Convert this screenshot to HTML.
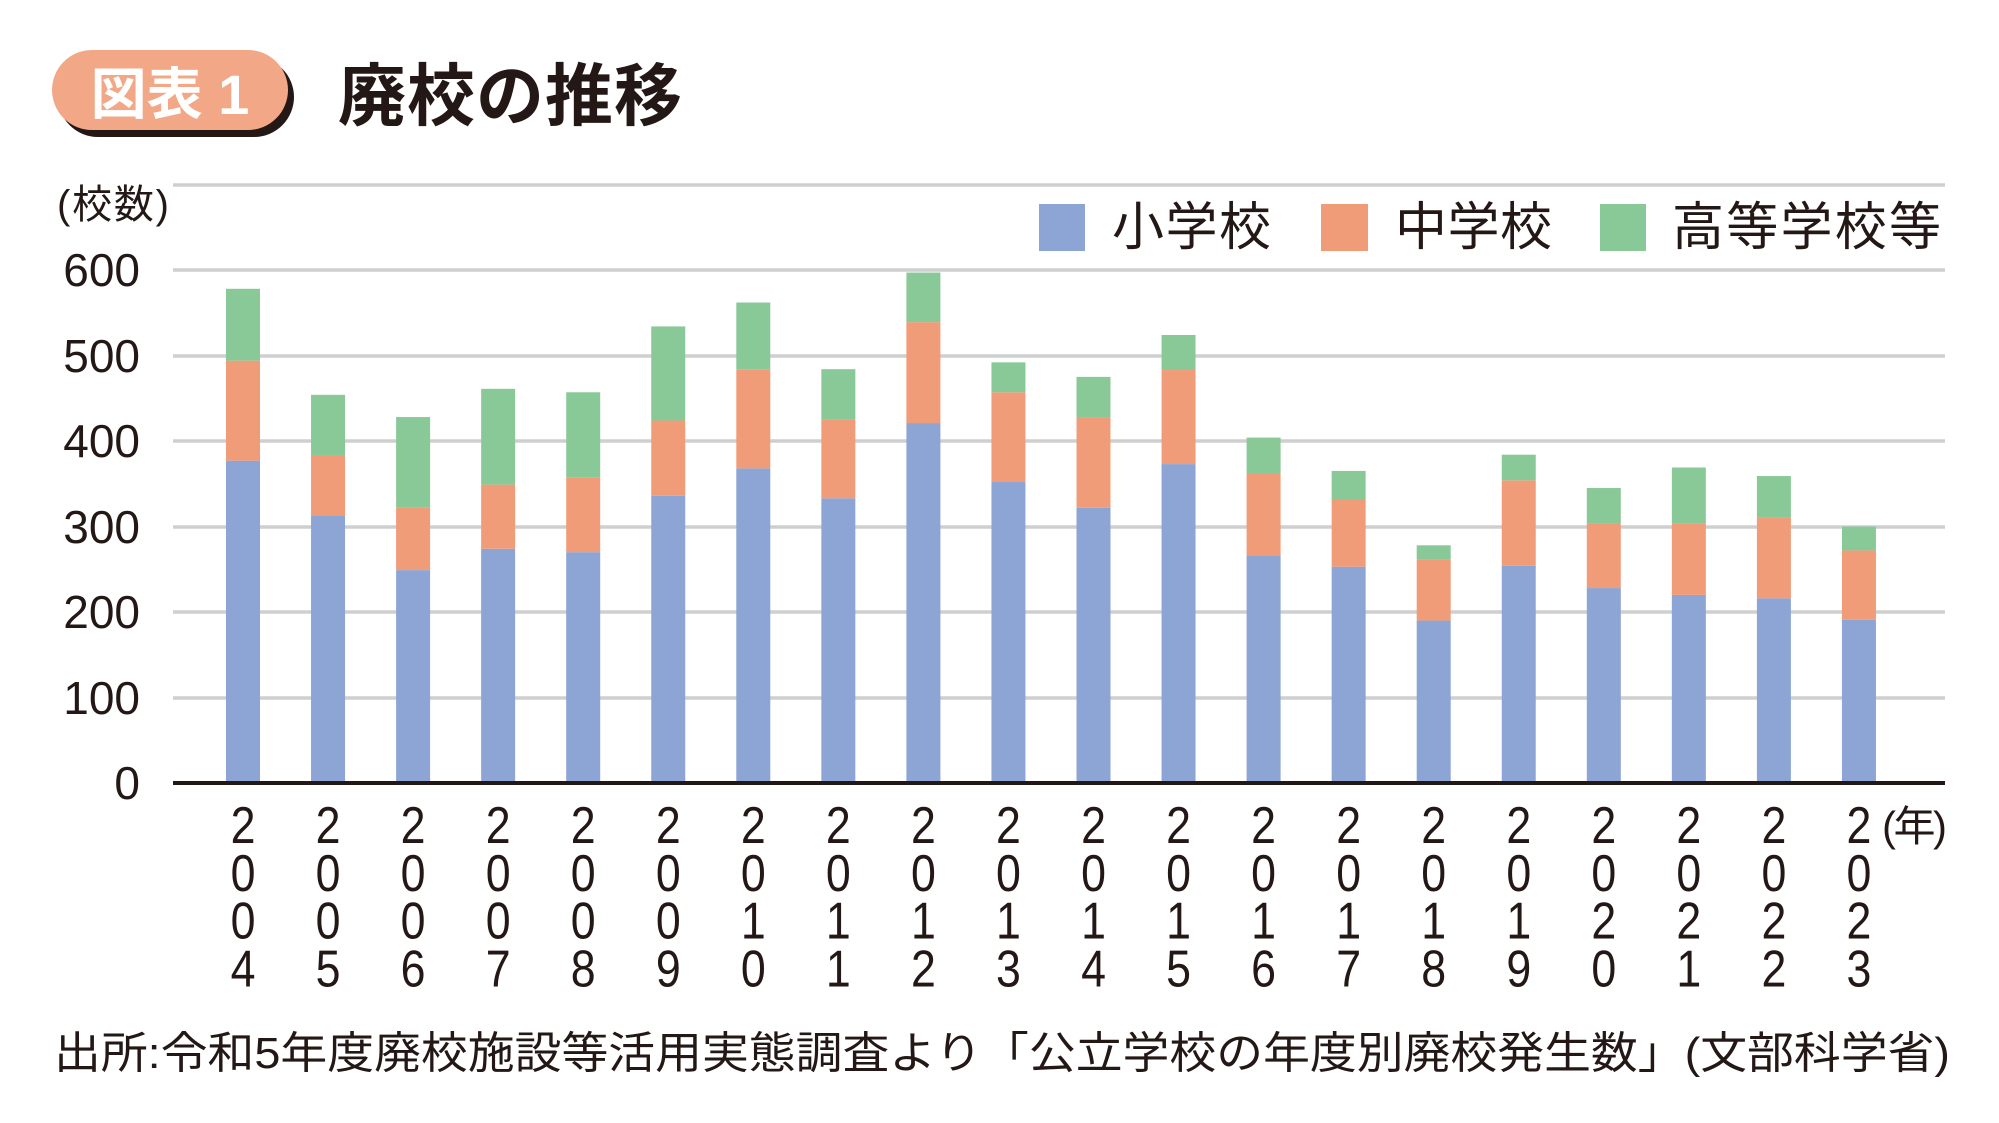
<!DOCTYPE html>
<html><head><meta charset="utf-8"><style>
html,body{margin:0;padding:0;background:#fff;}
svg{display:block;}
</style></head><body>
<svg width="1999" height="1123" viewBox="0 0 1999 1123" xmlns="http://www.w3.org/2000/svg">
<rect width="1999" height="1123" fill="#fff"/>
<!-- title pill -->
<rect x="58" y="57" width="236" height="80" rx="40" fill="#231815"/>
<rect x="52" y="50" width="236" height="80" rx="40" fill="#F2A886"/>
<text x="170" y="114" text-anchor="middle" font-family="Liberation Sans, Noto Sans CJK JP, sans-serif" font-size="56" fill="#fff" font-weight="bold">図表 1</text>
<text x="338" y="120" font-family="Liberation Sans, Noto Sans CJK JP, sans-serif" font-size="68" font-weight="bold" fill="#231815" textLength="344">廃校の推移</text>
<!-- grid -->
<g stroke="#cfcfcf" stroke-width="3.5">
<line x1="173" y1="185" x2="1945" y2="185"/>
<line x1="173" y1="270" x2="1945" y2="270"/>
<line x1="173" y1="356" x2="1945" y2="356"/>
<line x1="173" y1="441" x2="1945" y2="441"/>
<line x1="173" y1="527" x2="1945" y2="527"/>
<line x1="173" y1="612" x2="1945" y2="612"/>
<line x1="173" y1="698" x2="1945" y2="698"/>
</g>
<text x="57" y="218" font-family="Liberation Sans, Noto Sans CJK JP, sans-serif" font-size="40" fill="#231815" textLength="112">(校数)</text>
<g font-family="Liberation Sans, sans-serif" font-size="46" fill="#231815" text-anchor="end">
<text x="140" y="286">600</text>
<text x="140" y="372">500</text>
<text x="140" y="457">400</text>
<text x="140" y="543">300</text>
<text x="140" y="628">200</text>
<text x="140" y="714">100</text>
<text x="140" y="799">0</text>
</g>
<!-- legend -->
<rect x="1039" y="204" width="46" height="47" fill="#8CA5D4"/>
<text x="1112" y="245" font-family="Noto Sans CJK JP, sans-serif" font-size="52" fill="#231815" textLength="159">小学校</text>
<rect x="1321" y="204" width="47" height="47" fill="#F19C78"/>
<text x="1395" y="245" font-family="Noto Sans CJK JP, sans-serif" font-size="52" fill="#231815" textLength="157">中学校</text>
<rect x="1600" y="204" width="46" height="47" fill="#89C997"/>
<text x="1672" y="245" font-family="Noto Sans CJK JP, sans-serif" font-size="52" fill="#231815" textLength="269">高等学校等</text>
<!-- bars -->
<g id="bars"></g>
<line x1="173" y1="783" x2="1945" y2="783" stroke="#231815" stroke-width="4"/>
<g id="xl" font-family="Liberation Sans, sans-serif" font-size="52" fill="#231815" text-anchor="middle"></g>
<text x="1882" y="841" font-family="Liberation Sans, Noto Sans CJK JP, sans-serif" font-size="42" fill="#231815" textLength="65">(年)</text>
<text x="54" y="1068" font-family="Liberation Sans, Noto Sans CJK JP, sans-serif" font-size="44" fill="#231815" textLength="1896" lengthAdjust="spacingAndGlyphs">出所:令和5年度廃校施設等活用実態調査より「公立学校の年度別廃校発生数」(文部科学省)</text>
<script>
var d=[[377,494,578],[313,383,454],[249,322,428],[274,349,461],[270,357,457],[336,424,534],[368,484,562],[333,425,484],[421,539,597],[352,457,492],[322,428,475],[373,483,524],[266,362,404],[253,331,365],[190,261,278],[254,354,384],[228,303,345],[220,304,369],[216,311,359],[191,272,300]];
var ns="http://www.w3.org/2000/svg",g=document.getElementById("bars"),xl=document.getElementById("xl");
function y(v){return 783-v*0.855;}
function r(x,a,b,c){var e=document.createElementNS(ns,"rect");e.setAttribute("x",x);e.setAttribute("y",y(b));e.setAttribute("width",34);e.setAttribute("height",y(a)-y(b));e.setAttribute("fill",c);g.appendChild(e);}
for(var i=0;i<20;i++){var x=226+i*85.05;r(x,0,d[i][0],"#8CA5D4");r(x,d[i][0],d[i][1],"#F19C78");r(x,d[i][1],d[i][2],"#89C997");
var s=String(2004+i),cx=x+17;
for(var k=0;k<4;k++){var t=document.createElementNS(ns,"text");t.setAttribute("x",0);t.setAttribute("y",0);t.setAttribute("transform","translate("+cx+","+(843+k*47.8)+") scale(0.86,1)");t.textContent=s[k];xl.appendChild(t);}}
</script>
</svg>
</body></html>
